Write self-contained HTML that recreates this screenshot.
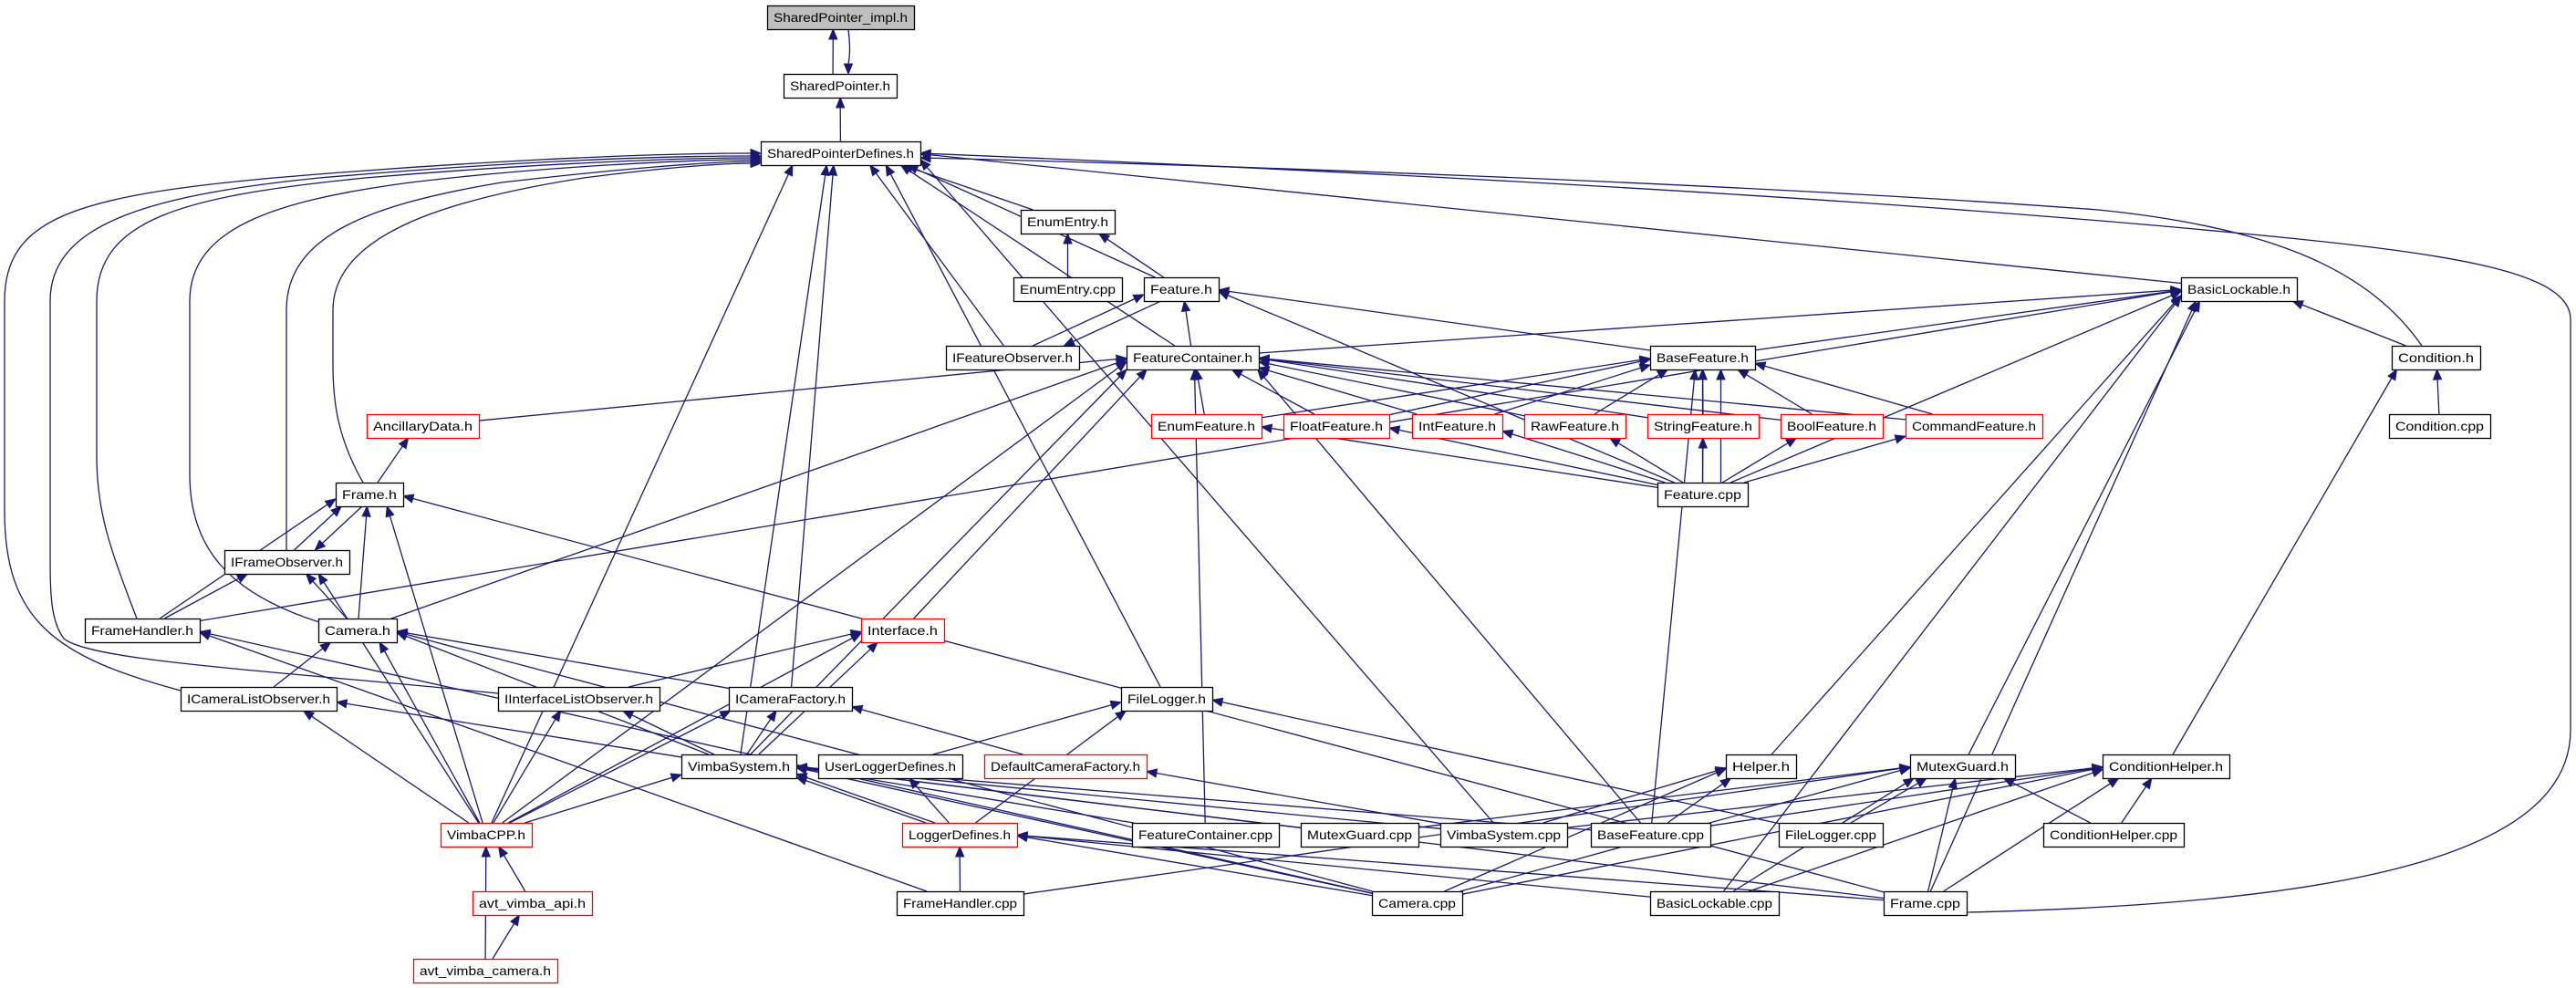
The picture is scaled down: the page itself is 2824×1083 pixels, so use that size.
<!DOCTYPE html>
<html><head><meta charset="utf-8"><style>
html,body{margin:0;padding:0;background:#fff;width:2824px;height:1083px;overflow:hidden}
svg text{font-family:"Liberation Sans",sans-serif;font-size:14px;fill:#000}
</style></head><body>
<svg id="g" width="2824" height="1083" viewBox="0 0 2824 1083" xmlns="http://www.w3.org/2000/svg">
<g id="edges" fill="none" stroke="#191970" stroke-width="1.3"></g>
<g id="heads" fill="#191970" stroke="#191970"></g>
<g id="nodes"></g>
</svg>
<div style="display:none">
SharedPointer_impl.h SharedPointer.h SharedPointerDefines.h EnumEntry.h EnumEntry.cpp Feature.h BasicLockable.h IFeatureObserver.h FeatureContainer.h BaseFeature.h Condition.h AncillaryData.h EnumFeature.h FloatFeature.h IntFeature.h RawFeature.h StringFeature.h BoolFeature.h CommandFeature.h Condition.cpp Frame.h Feature.cpp IFrameObserver.h FrameHandler.h Camera.h Interface.h ICameraListObserver.h IInterfaceListObserver.h ICameraFactory.h FileLogger.h VimbaSystem.h UserLoggerDefines.h DefaultCameraFactory.h Helper.h MutexGuard.h ConditionHelper.h VimbaCPP.h LoggerDefines.h FeatureContainer.cpp MutexGuard.cpp VimbaSystem.cpp BaseFeature.cpp FileLogger.cpp ConditionHelper.cpp avt_vimba_api.h FrameHandler.cpp Camera.cpp BasicLockable.cpp Frame.cpp avt_vimba_camera.h
</div>
<script>
var R=[6,81,155,230,304,379,454,529,603,678,753,827,902,977,1051],H=26;
var N={
spi:["SharedPointer_impl.h",841,1002,0,2],sp:["SharedPointer.h",859,983,1],spd:["SharedPointerDefines.h",834,1009,2],
ee:["EnumEntry.h",1119,1222,3],eecpp:["EnumEntry.cpp",1111,1230,4],feat:["Feature.h",1254,1336,4],bl:["BasicLockable.h",2391,2518,4],
ifo:["IFeatureObserver.h",1037,1183,5],fc:["FeatureContainer.h",1235,1380,5],bf:["BaseFeature.h",1809,1924,5],cond:["Condition.h",2622,2719,5],
anc:["AncillaryData.h",402,525,6,1],enf:["EnumFeature.h",1262,1383,6,1],flf:["FloatFeature.h",1407,1523,6,1],inf:["IntFeature.h",1548,1647,6,1],
rawf:["RawFeature.h",1671,1782,6,1],strf:["StringFeature.h",1806,1928,6,1],boolf:["BoolFeature.h",1952,2064,6,1],cmdf:["CommandFeature.h",2089,2239,6,1],condcpp:["Condition.cpp",2619,2730,6],
frame:["Frame.h",368,442,7],fcpp:["Feature.cpp",1817,1916,7],
ifro:["IFrameObserver.h",246,383,8],
fh:["FrameHandler.h",93,219,9],cam:["Camera.h",349,435,9],iface:["Interface.h",944,1035,9,1],
iclo:["ICameraListObserver.h",198,369,10],iilo:["IInterfaceListObserver.h",546,723,10],icf:["ICameraFactory.h",799,934,10],fl:["FileLogger.h",1229,1329,10],
vs:["VimbaSystem.h",747,873,11],uld:["UserLoggerDefines.h",897,1055,11],dcf:["DefaultCameraFactory.h",1079,1257,11,1],helper:["Helper.h",1892,1969,11],mg:["MutexGuard.h",2094,2209,11],ch:["ConditionHelper.h",2305,2444,11],
vcpp:["VimbaCPP.h",483,583,12,1],ld:["LoggerDefines.h",989,1115,12,1],fccpp:["FeatureContainer.cpp",1241,1402,12],mgcpp:["MutexGuard.cpp",1426,1555,12],vscpp:["VimbaSystem.cpp",1579,1718,12],bfcpp:["BaseFeature.cpp",1744,1875,12],flcpp:["FileLogger.cpp",1950,2064,12],chcpp:["ConditionHelper.cpp",2240,2394,12],
ava:["avt_vimba_api.h",518,649,13,1],fhcpp:["FrameHandler.cpp",983,1122,13],camcpp:["Camera.cpp",1504,1603,13],blcpp:["BasicLockable.cpp",1809,1950,13],framecpp:["Frame.cpp",2065,2156,13],
avc:["avt_vimba_camera.h",453,611,14,1]};
var NS="http://www.w3.org/2000/svg";
function el(t,a,p){var e=document.createElementNS(NS,t);for(var k in a)e.setAttribute(k,a[k]);p.appendChild(e);return e;}
var gN=document.getElementById("nodes"),gE=document.getElementById("edges"),gH=document.getElementById("heads");
function box(id){var n=N[id],y=R[n[3]];return {x1:n[1],x2:n[2],y1:y,y2:y+H,cx:(n[1]+n[2])/2,cy:y+H/2};}
function clip(b,ox,oy,px,py){var dx=px-ox,dy=py-oy;if(dx==0&&dy==0)return[ox,oy];
var tx=dx>0?(b.x2-ox)/dx:dx<0?(b.x1-ox)/dx:1e9,ty=dy>0?(b.y2-oy)/dy:dy<0?(b.y1-oy)/dy:1e9,t=Math.min(tx,ty);return[ox+dx*t,oy+dy*t];}
function head(tx,ty,fx,fy){var dx=tx-fx,dy=ty-fy,l=Math.sqrt(dx*dx+dy*dy)||1;dx/=l;dy/=l;var L=11,W=4.5,bx=tx-dx*L,by=ty-dy*L;
el("polygon",{points:tx+","+ty+" "+(bx-dy*W)+","+(by+dx*W)+" "+(bx+dy*W)+","+(by-dx*W)},gH);return [bx,by];}
function edge(s,t,ox){ox=ox||0;var a=box(s),b=box(t);
var sx=a.cx+ox,tx=b.cx+ox+(a.cx-b.cx)*0.12;tx=Math.max(b.x1+6,Math.min(b.x2-6,tx));sx=Math.max(a.x1+6,Math.min(a.x2-6,sx));
var p=clip(a,sx,a.cy,tx,b.cy),q=clip(b,tx,b.cy,sx,a.cy);
var bb=head(q[0],q[1],p[0],p[1]);el("path",{d:"M"+p[0]+","+p[1]+"L"+bb[0]+","+bb[1]},gE);}
function cust(d,tx,ty,fx,fy){var bb=head(tx,ty,fx,fy);el("path",{d:d+" "+bb[0]+","+bb[1]},gE);}
var E="sp>spi:-8,spd>sp,ee>spd,feat>spd,ifo>spd,fc>spd,bl>spd,vscpp>spd,fl>spd,vs>spd,icf>spd,vcpp>spd,eecpp>ee,feat>ee,ifo>feat:-6,feat>ifo:6,fc>feat,bf>feat,fcpp>feat,fc>bl,bf>bl,cond>bl,fcpp>bl,helper>bl,mg>bl,blcpp>bl,framecpp>bl,fh>bl,enf>bf,flf>bf,inf>bf,rawf>bf,strf>bf,boolf>bf,cmdf>bf,fcpp>bf,fcpp>bf:20,bfcpp>bf,enf>fc,flf>fc,inf>fc,rawf>fc,strf>fc,boolf>fc,cmdf>fc,anc>fc,cam>fc,iface>fc,vcpp>fc,vs>fc,fccpp>fc,bfcpp>fc,fcpp>enf,fcpp>flf,fcpp>inf,fcpp>rawf,fcpp>strf,fcpp>boolf,fcpp>cmdf,condcpp>cond,ch>cond,frame>anc,ifro>frame:-6,fh>frame,cam>frame,vcpp>frame,framecpp>frame,frame>ifro:6,fh>ifro,cam>ifro,vcpp>ifro,iclo>cam,vcpp>cam,icf>cam,vs>cam,camcpp>cam,fhcpp>fh,camcpp>fh,vcpp>iclo,vs>iclo,vcpp>iilo,vs>iilo,iilo>iface,vcpp>iface,vs>iface:8,vcpp>icf,vs>icf,dcf>icf,vcpp>vs,ld>vs,ld>vs:10,fccpp>vs,mgcpp>vs,vscpp>vs,bfcpp>vs,camcpp>vs,framecpp>vs,uld>fl,ld>fl,flcpp>fl,ld>uld,vscpp>dcf,fhcpp>ld,camcpp>ld,blcpp>ld,framecpp>ld,ava>vcpp,avc>vcpp,avc>ava,vscpp>helper,bfcpp>helper,camcpp>helper,mgcpp>mg,flcpp>mg,chcpp>mg,camcpp>mg,blcpp>mg,framecpp>mg,fhcpp>mg,chcpp>ch,bfcpp>ch,vscpp>ch,camcpp>ch,framecpp>ch,blcpp>ch".split(",");
E.forEach(function(e){var m=e.split(":"),st=m[0].split(">");edge(st[0],st[1],m[1]?+m[1]:0);});
(function(){var bb=head(930,81,930,32);el("path",{d:"M930,32 C932,50 932,60 "+bb[0]+","+bb[1]},gE);})();
cust("M198,757 C60,720 5,680 5,560 L5,330 C5,240 80,215 300,195 C500,178 700,168",834,168,700,168);
cust("M546,760 C300,735 100,725 70,700 C55,680 55,650 55,600 L55,330 C55,250 150,215 350,195 C550,178 700,171",834,171,700,171);
cust("M150,678 C120,600 106,560 106,500 L106,330 C106,240 200,215 400,195 C600,178 760,173",834,173,760,173);
cust("M350,682 C250,650 208,600 208,520 L208,330 C208,250 300,220 450,200 C600,182 760,175",834,175,760,175);
cust("M314,603 L314,340 C314,260 400,225 550,200 C680,185 780,177",834,177,780,177);
cust("M398,529 C370,480 365,440 365,400 L365,340 C365,260 480,220 640,195 C740,182 800,179",834,179,800,179);
cust("M2156,1000 C2600,990 2818,930 2818,800 L2818,350 C2818,300 2700,280 2500,260 C2000,210 1300,180",1009,168,1300,180);
cust("M2655,379 C2600,300 2500,250 2300,230 C1900,200 1300,180",1009,173,1300,180);
for(var id in N){var n=N[id],b=box(id);
el("rect",{x:b.x1+.5,y:b.y1+.5,width:b.x2-b.x1,height:H,fill:n[4]==2?"#bfbfbf":"#fff",stroke:n[4]==1?"#ff0000":"#000","stroke-width":1.3},gN);
var t=el("text",{x:b.cx,y:b.y1+18,"text-anchor":"middle",textLength:(b.x2-b.x1-14),lengthAdjust:"spacingAndGlyphs"},gN);t.textContent=n[0];}
</script>
</body></html>
